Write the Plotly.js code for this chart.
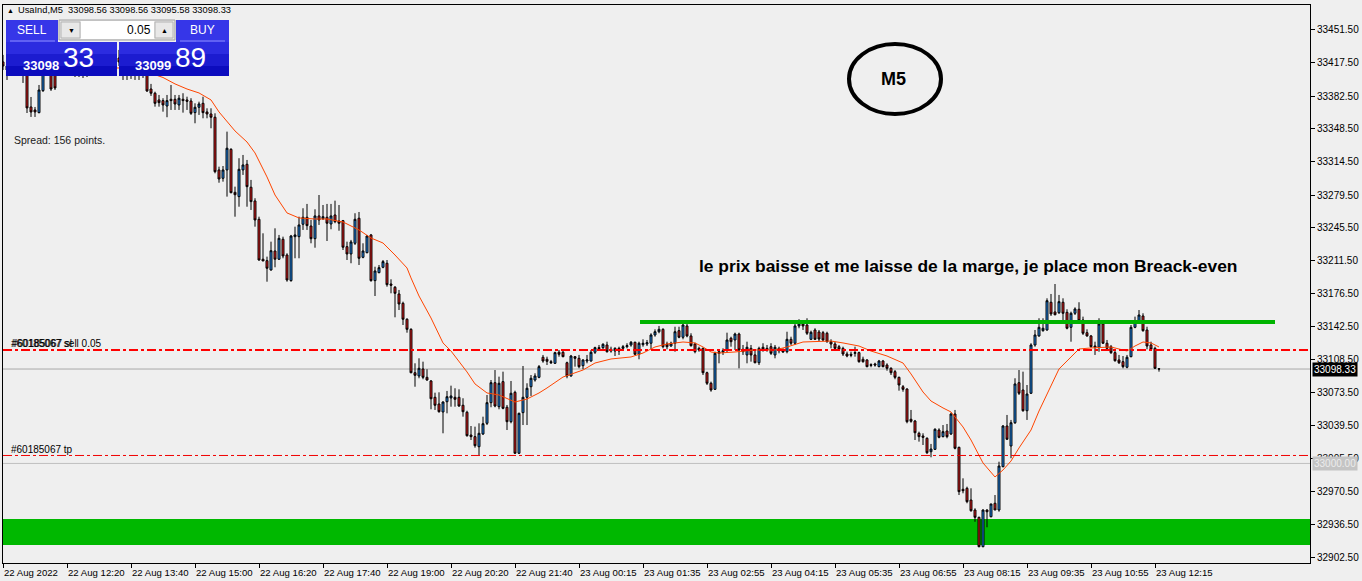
<!DOCTYPE html>
<html>
<head>
<meta charset="utf-8">
<script src="https://cdn.plot.ly/plotly-3.0.1.min.js"></script>
<style>html,body{margin:0;padding:0;background:#efefef;}#chart{width:1362px;height:581px;}</style>
</head>
<body>
<div id="chart"></div>
<script>
// ---- data ----
const opens = [33418.2,33414.0,33409.8,33418.2,33424.4,33420.3,33414.0,33371.3,33368.2,33365.4,33388.3,33409.8,33411.9,33407.8,33414.0,33420.3,33425.5,33430.7,33424.4,33418.2,
33409.8,33414.0,33418.2,33424.4,33430.7,33434.8,33436.9,33432.8,33428.6,33422.3,33418.2,33414.0,33409.8,33414.0,33409.8,33407.8,33406.7,33390.0,33385.6,33378.6,
33377.9,33372.3,33379.3,33379.3,33373.4,33379.3,33378.6,33377.5,33365.4,33371.0,33375.1,33366.1,33364.0,33360.6,33305.7,33297.0,33305.7,33327.2,33282.4,33277.9,
33305.7,33311.6,33287.7,33273.4,33254.3,33212.7,33211.2,33201.5,33221.3,33212.7,33233.5,33217.1,33190.4,33236.2,33236.2,33249.1,33256.4,33247.3,33234.1,33257.8,
33254.9,33256.4,33249.4,33258.8,33252.5,33252.9,33225.8,33218.2,33229.3,33255.4,33214.7,33219.5,33238.0,33190.4,33198.7,33204.3,33208.5,33186.9,33183.5,33176.5,
33166.8,33150.2,33139.7,33094.5,33091.1,33098.4,33089.7,33085.9,33068.9,33061.9,33053.6,33064.3,33068.2,33068.9,33068.9,33060.6,33053.3,33029.6,33027.9,33017.4,
33030.7,33041.8,33063.3,33084.1,33059.1,33085.2,33058.5,33043.5,33074.1,33010.6,33052.9,33068.9,33079.9,33086.9,33089.7,33110.6,33108.5,33106.0,33104.3,33115.8,
33115.8,33104.9,33091.1,33111.2,33109.5,33101.8,33106.7,33106.7,33115.8,33120.6,33120.6,33123.4,33118.9,33117.1,33119.9,33119.9,33121.6,33123.4,33126.2,33113.7,
33123.7,33124.4,33125.2,33133.8,33137.2,33139.7,33124.4,33122.3,33125.2,33138.3,33131.4,33143.2,33132.8,33124.4,33119.9,33119.9,33094.5,33083.5,33077.2,33114.7,
33115.8,33117.4,33130.4,33128.6,33134.8,33118.9,33113.0,33119.9,33113.0,33104.9,33121.0,33119.9,33121.6,33113.0,33119.9,33117.4,33116.4,33129.3,33125.2,33143.2,
33145.3,33144.2,33129.3,33139.0,33136.9,33136.2,33135.6,33126.8,33124.4,33121.6,33119.9,33114.0,33113.7,33114.7,33115.4,33108.5,33107.8,33102.9,33103.6,33100.8,
33106.7,33102.5,33099.1,33095.6,33089.7,33079.9,33077.5,33046.0,33044.2,33031.4,33028.6,33026.2,33012.2,33014.7,33034.8,33027.9,33033.8,33030.7,33051.5,33016.8,
32973.1,32974.1,32961.9,32951.5,32943.9,32913.3,32951.5,32944.5,32958.5,32951.5,32996.6,33039.0,33018.2,33042.4,33084.1,33076.5,33054.9,33073.1,33123.4,33132.8,
33138.3,33139.0,33167.9,33157.8,33157.0,33167.9,33157.4,33141.8,33156.4,33160.6,33149.4,33136.2,33132.8,33122.3,33121.0,33145.3,33125.2,33121.6,33115.4,33107.8,
33106.0,33100.2,33111.2,33141.8,33147.0,33153.6,33139.0,33123.4,33119.9,33098.56];

const highs = [33425.5,33420.3,33422.3,33428.6,33432.8,33425.5,33418.2,33381.7,33371.3,33394.2,33420.3,33422.3,33418.2,33414.0,33424.4,33430.7,33435.9,33436.9,33430.7,33424.4,
33420.3,33422.3,33428.6,33434.8,33439.0,33443.2,33445.3,33441.1,33436.9,33430.7,33426.5,33422.3,33418.2,33420.3,33418.2,33416.1,33409.8,33395.3,33387.2,33383.8,
33380.4,33383.8,33394.2,33383.8,33383.8,33385.6,33382.0,33380.4,33375.1,33376.8,33382.0,33369.9,33369.9,33364.7,33309.1,33309.8,33345.6,33328.3,33288.3,33317.9,
33321.3,33316.1,33295.3,33276.2,33257.0,33239.7,33215.4,33231.0,33244.9,33238.0,33236.2,33218.9,33238.0,33246.6,33257.0,33265.8,33270.3,33253.6,33264.7,33279.6,
33269.2,33270.3,33270.3,33273.7,33269.2,33253.6,33231.0,33232.8,33260.6,33261.9,33229.3,33238.0,33239.0,33204.9,33206.7,33211.9,33211.9,33191.8,33184.8,33180.7,
33168.5,33151.2,33140.8,33104.3,33109.5,33106.0,33098.1,33086.9,33073.7,33074.1,33064.7,33075.5,33081.0,33078.3,33077.2,33067.9,33054.9,33039.0,33038.3,33041.8,
33048.7,33071.3,33086.9,33097.3,33090.4,33095.6,33060.9,33085.9,33075.8,33052.9,33101.5,33083.5,33092.1,33093.9,33102.5,33113.0,33111.2,33107.8,33116.4,33118.2,
33118.2,33106.0,33113.0,33111.9,33113.0,33108.5,33113.0,33118.2,33121.6,33123.4,33125.2,33126.8,33121.6,33121.0,33121.6,33123.4,33125.2,33127.5,33126.8,33126.8,
33129.3,33128.6,33135.6,33139.7,33143.2,33140.8,33126.8,33126.8,33142.4,33142.4,33146.0,33145.3,33135.6,33125.8,33121.6,33120.6,33095.6,33085.2,33116.4,33118.2,
33119.9,33136.2,33132.0,33136.2,33136.2,33123.4,33126.8,33123.4,33118.2,33121.6,33125.2,33123.4,33125.2,33123.4,33121.6,33119.9,33137.2,33132.0,33147.7,33150.2,
33149.4,33151.2,33138.3,33140.8,33139.0,33138.0,33137.2,33129.3,33126.8,33123.4,33121.6,33116.4,33116.4,33121.6,33116.4,33111.2,33108.5,33104.3,33104.9,33107.8,
33107.8,33104.3,33100.2,33097.3,33090.4,33081.7,33078.3,33055.7,33045.3,33033.1,33031.4,33027.2,33020.3,33036.6,33036.6,33040.0,33041.1,33052.9,33055.7,33017.4,
32984.5,32975.8,32974.1,32953.3,32944.5,32952.2,32952.2,32957.8,32967.1,33001.8,33040.0,33050.5,33045.3,33088.7,33097.3,33095.6,33081.7,33125.2,33139.0,33151.2,
33151.2,33172.0,33176.5,33186.9,33175.5,33172.0,33160.6,33158.1,33162.6,33167.9,33152.9,33139.7,33133.8,33126.8,33151.2,33146.6,33128.6,33123.4,33118.2,33113.0,
33111.9,33113.0,33144.2,33152.9,33159.8,33156.4,33142.4,33126.8,33121.6,33098.56];

const lows = [33409.8,33399.4,33405.7,33411.9,33416.1,33396.3,33365.0,33360.9,33360.9,33364.7,33386.9,33404.6,33388.0,33389.0,33404.6,33411.9,33418.2,33420.3,33402.5,33402.5,
33401.5,33402.5,33411.9,33418.2,33422.3,33426.5,33428.6,33422.3,33418.2,33414.0,33399.4,33399.4,33400.5,33399.4,33399.4,33401.5,33386.9,33382.8,33371.6,33371.6,
33366.4,33360.6,33368.2,33368.2,33368.2,33365.4,33368.2,33363.0,33354.3,33363.0,33359.5,33359.5,33349.1,33302.2,33292.4,33293.5,33277.9,33281.4,33257.0,33267.4,
33300.5,33267.4,33264.0,33246.6,33211.2,33210.9,33189.3,33200.8,33204.3,33211.9,33213.7,33189.3,33189.3,33213.7,33213.7,33243.2,33243.2,33229.3,33224.7,33248.4,
33253.6,33231.7,33243.9,33250.2,33242.4,33222.3,33211.9,33208.5,33227.5,33206.7,33213.7,33218.9,33189.3,33174.4,33198.1,33203.3,33184.1,33177.2,33152.2,33159.8,
33144.2,33136.2,33093.9,33079.9,33088.7,33087.7,33086.2,33056.4,33055.7,33052.9,33031.4,33052.2,33059.1,33059.1,33059.1,33048.7,33027.9,33024.4,33016.4,33008.8,
33029.6,33040.0,33058.5,33058.5,33056.4,33056.4,33034.8,33041.8,33009.8,33009.8,33040.0,33040.0,33070.3,33085.2,33088.7,33104.9,33102.5,33103.6,33103.6,33111.2,
33110.6,33088.7,33090.4,33100.8,33099.1,33098.1,33104.3,33106.0,33114.0,33118.2,33118.2,33115.4,33115.4,33111.9,33113.0,33118.2,33119.9,33121.6,33113.0,33108.5,
33121.6,33122.3,33118.9,33132.0,33135.6,33119.9,33118.9,33121.6,33116.4,33130.4,33129.3,33131.4,33121.6,33114.7,33116.4,33092.1,33081.7,33074.7,33076.5,33104.3,
33113.0,33116.4,33121.6,33118.2,33099.1,33113.0,33104.3,33106.0,33104.3,33102.5,33116.4,33116.4,33113.0,33109.5,33114.7,33115.4,33114.7,33123.4,33123.4,33140.8,
33139.0,33133.8,33128.6,33128.6,33127.5,33127.5,33125.8,33119.9,33118.2,33118.2,33111.9,33110.6,33110.6,33111.2,33104.9,33104.9,33100.2,33100.2,33100.8,33100.2,
33100.2,33096.6,33092.1,33087.7,33075.8,33074.7,33041.8,33042.4,33024.4,33022.7,33019.2,33009.8,33006.4,33014.0,33026.2,33027.2,33026.2,33029.6,33014.7,32967.1,
32968.9,32958.5,32949.7,32939.3,32912.7,32912.7,32933.5,32943.9,32951.5,32949.7,32996.0,33024.4,33005.4,33041.1,33071.3,33053.9,33045.3,33072.3,33121.6,33132.0,
33137.2,33138.3,33153.6,33154.3,33155.7,33146.0,33139.7,33126.8,33154.6,33147.7,33133.8,33132.0,33120.6,33113.0,33116.4,33124.4,33118.2,33114.0,33106.0,33103.6,
33099.1,33099.1,33110.6,33140.8,33146.0,33137.2,33118.9,33118.2,33098.4,33095.58];

const closes = [33414.0,33409.8,33418.2,33424.4,33420.3,33414.0,33370.3,33366.1,33366.1,33389.0,33409.8,33416.1,33390.0,33391.1,33420.3,33425.5,33430.7,33424.4,33418.2,33409.8,
33414.0,33418.2,33424.4,33430.7,33434.8,33436.9,33432.8,33428.6,33422.3,33418.2,33414.0,33409.8,33414.0,33409.8,33407.8,33406.7,33388.0,33385.6,33375.1,33375.8,
33373.4,33377.9,33377.9,33374.4,33380.4,33377.9,33377.2,33364.7,33371.0,33374.4,33365.4,33364.0,33360.6,33303.9,33296.3,33305.7,33328.3,33282.0,33279.9,33306.4,
33310.9,33288.3,33272.7,33253.6,33211.9,33210.9,33203.3,33221.6,33212.7,33234.5,33216.1,33191.1,33236.9,33238.0,33248.4,33256.4,33247.7,33234.1,33257.8,33253.6,
33257.0,33250.2,33257.8,33251.8,33250.2,33225.2,33218.2,33230.7,33254.3,33213.7,33221.3,33236.9,33190.4,33200.5,33203.9,33210.2,33186.2,33185.6,33177.2,33166.1,
33150.2,33139.7,33094.5,33091.8,33099.1,33089.7,33086.9,33067.4,33060.6,33053.9,33064.0,33069.5,33070.3,33066.8,33059.8,33053.9,33028.9,33027.9,33018.5,33031.4,
33041.4,33063.3,33084.1,33059.8,33083.5,33057.4,33043.5,33073.1,33010.6,33052.2,33068.9,33078.3,33088.7,33091.1,33100.8,33106.7,33106.4,33104.9,33115.4,33113.7,
33111.2,33091.1,33111.9,33109.5,33100.8,33107.8,33107.8,33115.8,33120.6,33119.5,33124.1,33116.4,33117.1,33119.9,33117.1,33121.6,33122.7,33126.2,33113.7,33125.2,
33125.2,33125.8,33133.8,33137.2,33139.7,33121.6,33121.6,33125.2,33137.2,33131.4,33144.2,33132.8,33122.7,33116.4,33118.2,33094.5,33083.5,33076.5,33114.7,33116.4,
33117.4,33128.6,33126.8,33134.8,33118.2,33116.4,33121.0,33113.0,33104.9,33119.9,33118.9,33118.2,33114.7,33121.0,33117.4,33116.1,33129.3,33125.2,33143.2,33145.3,
33143.2,33135.6,33136.6,33129.3,33129.6,33128.6,33126.8,33124.4,33119.9,33118.9,33114.0,33111.9,33112.7,33115.4,33106.0,33106.0,33100.8,33102.2,33102.5,33106.7,
33100.8,33099.1,33094.5,33089.7,33081.7,33077.2,33043.5,33043.9,33032.0,33027.9,33027.2,33011.2,33015.0,33035.6,33027.2,33033.1,33027.9,33051.5,33015.8,32970.6,
32971.6,32960.2,32950.8,32943.9,32913.3,32951.5,32949.7,32957.8,32951.5,32997.3,33039.0,33025.2,33042.4,33082.8,33073.1,33054.9,33072.3,33123.4,33133.8,33141.8,
33140.8,33169.5,33155.7,33154.9,33168.5,33156.4,33140.8,33156.4,33160.9,33148.7,33135.6,33132.8,33121.6,33121.0,33145.3,33125.2,33119.9,33115.4,33107.0,33104.9,
33100.8,33110.6,33141.8,33147.0,33154.6,33138.3,33122.3,33118.9,33099.1,33098.33];

// moving average (orange line), sampled at bar indices
const maIdx = [20,30,36,40,43,46,49,52,54,56,58,61,63,66,68,71,74,78,81,85,89,92,95,98,101,102,104,107,110,112,116,118,121,124,128,131,134,136,140,145,148,152,157,160,163,166,170,173,175,177,179,183,188,193,196,200,204,207,210,214,217,221,225,227,230,232,235,237,240,242,245,247,248,250,252,254,257,259,262,264,267,269,272,277,279,281,283,285,287,289];
const maVal = [33411.9,33411.9,33407.8,33402.0,33395.3,33390.0,33385.9,33378.6,33366.1,33355.7,33346.3,33334.8,33323.4,33298.4,33279.6,33260.9,33255.7,33254.6,33254.6,33251.5,33243.2,33234.8,33229.6,33217.1,33203.6,33193.2,33174.4,33151.5,33125.5,33117.1,33095.3,33082.8,33073.4,33071.3,33064.0,33067.1,33073.4,33078.6,33090.0,33097.3,33104.6,33108.8,33110.9,33115.0,33121.3,33124.4,33126.5,33125.5,33121.3,33116.1,33115.0,33116.1,33118.2,33118.2,33121.3,33126.5,33127.5,33127.5,33125.5,33122.3,33117.1,33111.9,33104.6,33093.2,33074.4,33065.0,33057.8,33053.6,33038.0,33024.4,33000.5,32990.0,32985.9,32993.2,33002.5,33016.1,33034.8,33054.6,33080.7,33098.4,33110.9,33119.2,33120.3,33121.3,33119.2,33117.1,33122.3,33126.5,33125.5,33121.3];

// x-axis labels (bar index of each label)
const xTickIdx = [0,16,32,48,64,80,96,112,128,144,160,176,192,208,224,240,256,272,288];
const xTickText = ['22 Aug 2022','22 Aug 12:20','22 Aug 13:40','22 Aug 15:00','22 Aug 16:20','22 Aug 17:40','22 Aug 19:00','22 Aug 20:20','22 Aug 21:40','23 Aug 00:15','23 Aug 01:35','23 Aug 02:55','23 Aug 04:15','23 Aug 05:35','23 Aug 06:55','23 Aug 08:15','23 Aug 09:35','23 Aug 10:55','23 Aug 12:15'];
// y-axis labels
const yTicks = [33451.5,33417.5,33382.5,33348.5,33314.5,33279.5,33245.5,33211.5,33176.5,33142.5,33108.5,33073.5,33039.5,33005.5,32970.5,32936.5,32902.5];

// levels
const bidPrice = 33098.33;
const roundLevel = 33000.00;
const sellLevel = 33118.2;
const tpLevel = 33008.3;
const resistLevel = 33147.3;
const resistFrom = 159.25, resistTo = 318;
const zoneTop = 32942.1, zoneBottom = 32915.0;

// ---- drawing ----
const FONT = 'Liberation Sans, Arial, sans-serif';
const PX = p => (p - 3) / 1307;
const PY = p => (563 - p) / 558;
const shapes = [];
const ann = [];
function rect(x0, y0, x1, y1, fill, line) {
  shapes.push({type:'rect', xref:'paper', yref:'paper', x0:PX(x0), x1:PX(x1), y0:PY(y1), y1:PY(y0),
    fillcolor:fill, line:{width: line ? 1 : 0, color: line || fill}, layer:'above'});
}
function txt(t, x, y, size, color, o) {
  o = o || {};
  ann.push(Object.assign({text:t, xref:'paper', yref:'paper', x:PX(x), y:PY(y), xanchor:'left', yanchor:'middle',
    showarrow:false, font:{family:FONT, size:size, color:color}, borderpad:0}, o));
}

// green zone (background)
shapes.push({type:'rect', xref:'paper', yref:'y', x0:0, x1:1, y0:zoneBottom, y1:zoneTop, fillcolor:'#00b800', line:{width:0}, layer:'below'});
// round number line and bid line
shapes.push({type:'line', xref:'paper', yref:'y', x0:0, x1:1, y0:roundLevel, y1:roundLevel, line:{color:'#c0c0c0', width:1}, layer:'below'});
shapes.push({type:'line', xref:'paper', yref:'y', x0:0, x1:1, y0:bidPrice, y1:bidPrice, line:{color:'#a8a8a8', width:1}, layer:'below'});
// order lines
shapes.push({type:'line', xref:'paper', yref:'y', x0:0, x1:1, y0:sellLevel, y1:sellLevel, line:{color:'#ff0000', width:2, dash:'dashdot'}, layer:'above'});
shapes.push({type:'line', xref:'paper', yref:'y', x0:0, x1:1, y0:tpLevel, y1:tpLevel, line:{color:'#f00000', width:1, dash:'dashdot'}, layer:'above'});
// green resistance line
shapes.push({type:'line', xref:'x', yref:'y', x0:resistFrom, x1:resistTo, y0:resistLevel, y1:resistLevel, line:{color:'#00b400', width:4}, layer:'above'});
// ellipse
shapes.push({type:'circle', xref:'paper', yref:'paper', x0:PX(849), x1:PX(941), y0:PY(114), y1:PY(44), line:{color:'#000', width:4}, layer:'above'});

// trading panel
rect(58, 39, 176, 42.5, '#efefef');
rect(6, 20, 58, 42, '#3636e8');
rect(6, 42, 117, 54, '#2c2ce0'); rect(6, 54, 117, 66, '#1c1cd0'); rect(6, 66, 117, 76, '#0c0cbe');
rect(176, 20, 229, 42, '#3636e8');
rect(119, 42, 229, 54, '#2c2ce0'); rect(119, 54, 229, 66, '#1c1cd0'); rect(119, 66, 229, 76, '#0c0cbe');
rect(59, 20, 175, 40, '#e4e4e4', '#a0a0a0');
rect(61, 22, 80, 38, '#e8e8e8', '#b4b4b4');
rect(81, 21, 154, 39, '#ffffff');
rect(155, 22, 173, 38, '#e8e8e8', '#b4b4b4');
shapes.push({type:'line', xref:'paper', yref:'paper', x0:PX(10), x1:PX(55), y0:PY(41), y1:PY(41), line:{color:'#8c8cff', width:1}, layer:'above'});
shapes.push({type:'line', xref:'paper', yref:'paper', x0:PX(180), x1:PX(225), y0:PY(41), y1:PY(41), line:{color:'#8c8cff', width:1}, layer:'above'});

txt('SELL', 32, 30, 12, '#ffffff', {xanchor:'center'});
txt('BUY', 202, 30, 12, '#ffffff', {xanchor:'center'});
txt('▼', 71, 30, 7, '#000', {xanchor:'center'});
txt('▲', 164, 30, 7, '#000', {xanchor:'center'});
txt('0.05', 152, 30, 12, '#000', {xanchor:'right'});
txt('<b>33098</b>', 22, 66, 13, '#ffffff');
txt('33', 62, 58, 28, '#ffffff');
txt('<b>33099</b>', 134, 66, 13, '#ffffff');
txt('89', 174, 58, 28, '#ffffff');

// header and labels
txt('▲', 6, 10, 7, '#000');
txt('UsaInd,M5  33098.56 33098.56 33095.58 33098.33', 17, 10, 9.3, '#000');
txt('Spread: 156 points.', 13, 140, 10.5, '#1a1a1a');
txt('#60185067 sell 0.05', 10, 343, 10, '#000');
txt('#60185067 sl', 10.6, 343, 10, '#000');
txt('#60185067 tp', 10, 449, 10, '#000');
txt('<b>M5</b>', 893, 79, 18, '#000', {xanchor:'center'});
txt('<b>le prix baisse et me laisse de la marge, je place mon Breack-even</b>', 698, 266, 17.4, '#000');

// price boxes on the right axis
ann.push({text:bidPrice.toFixed(2), xref:'paper', yref:'y', x:1, xshift:2, y:bidPrice, xanchor:'left', yanchor:'middle',
  showarrow:false, bgcolor:'#000', font:{family:FONT, size:10, color:'#fff'}, borderpad:1});
ann.push({text:roundLevel.toFixed(2), xref:'paper', yref:'y', x:1, xshift:2, y:roundLevel, xanchor:'left', yanchor:'middle',
  showarrow:false, bgcolor:'#c4c4c4', font:{family:FONT, size:10, color:'#ececec'}, borderpad:1});

const idx = opens.map((_, i) => i);
const traces = [
  {type:'candlestick', x:idx, open:opens, high:highs, low:lows, close:closes,
   increasing:{line:{color:'#000', width:1}, fillcolor:'#1e90ff'},
   decreasing:{line:{color:'#000', width:1}, fillcolor:'#ee1c1c'},
   whiskerwidth:0, hoverinfo:'skip'},
  {type:'scatter', mode:'lines', x:maIdx, y:maVal, line:{color:'#ff4500', width:1}, hoverinfo:'skip'}
];

const layout = {
  width:1362, height:581,
  margin:{l:3, r:52, t:5, b:18, pad:0},
  paper_bgcolor:'#efefef', plot_bgcolor:'#efefef',
  showlegend:false, hovermode:false, boxgap:0.3,
  font:{family:FONT, size:10, color:'#000'},
  xaxis:{range:[0, 326.75], tickmode:'array', tickvals:xTickIdx, ticktext:xTickText, tickangle:0,
    ticks:'outside', ticklen:4, tickcolor:'#000', ticklabelposition:'outside right',
    showgrid:false, zeroline:false, showline:true, linecolor:'#000', linewidth:1, mirror:true,
    rangeslider:{visible:false}, tickfont:{family:FONT, size:9.6, color:'#000'}, fixedrange:true},
  yaxis:{side:'right', range:[32896.3, 33477.5], tickmode:'array', tickvals:yTicks, ticktext:yTicks.map(v => v.toFixed(2)),
    ticks:'outside', ticklen:4, tickcolor:'#000', showgrid:false, zeroline:false,
    showline:true, linecolor:'#000', linewidth:1, mirror:true, tickfont:{family:FONT, size:10, color:'#000'}, fixedrange:true},
  shapes:shapes, annotations:ann
};
Plotly.newPlot('chart', traces, layout, {displayModeBar:false, staticPlot:true});
</script>
</body>
</html>
